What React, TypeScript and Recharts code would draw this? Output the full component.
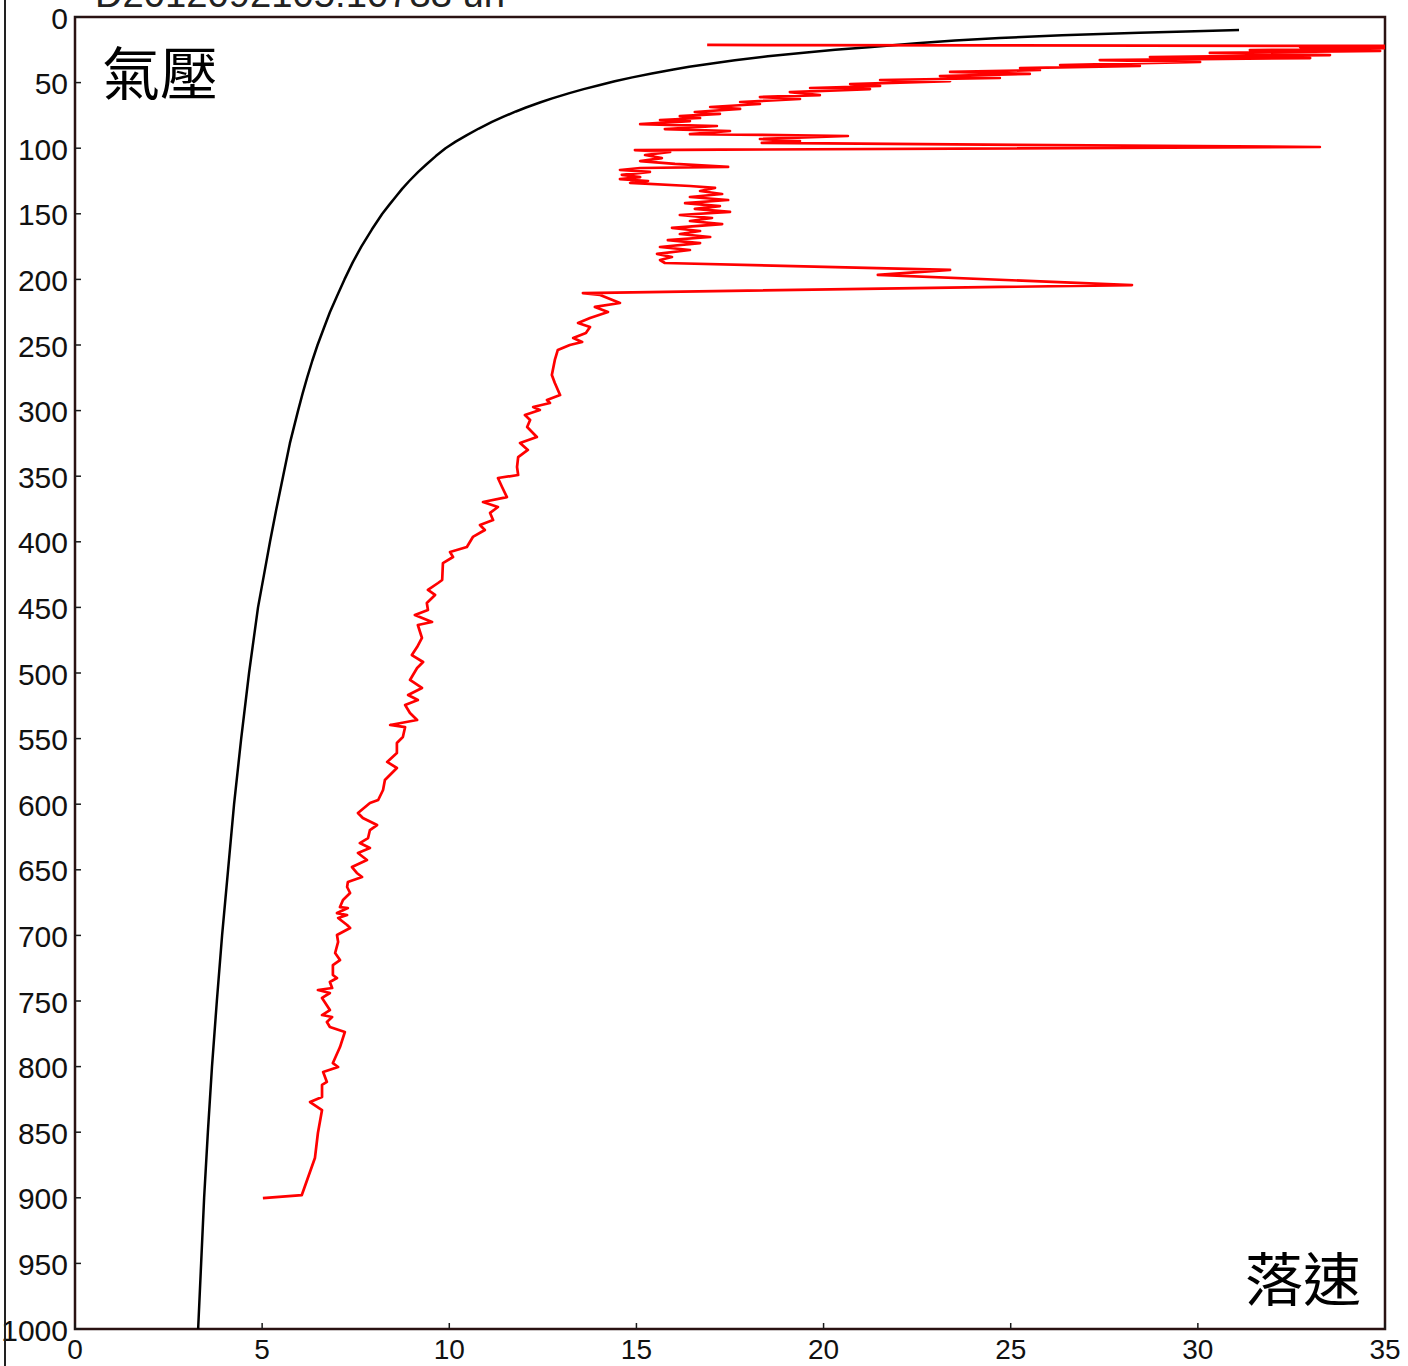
import { ScatterChart, Scatter, XAxis, YAxis, ReferenceArea } from 'recharts'

// fall speed (m/s) vs pressure (hPa); pairs are [speed, pressure]
const xTicks = [0, 5, 10, 15, 20, 25, 30, 35]
const yTicks = [0, 50, 100, 150, 200, 250, 300, 350, 400, 450, 500, 550, 600, 650, 700, 750, 800, 850, 900, 950, 1000]

const titleText = 'D2012092105.10733 un'
const pressureLabel = '氣壓'
const speedLabel = '落速'

// theoretical fall speed (black)
const blackPressure = [
  10, 11, 12, 14, 16, 18, 20, 23, 25, 27, 30, 33, 35, 38, 40, 43, 46, 49, 52, 55, 58, 62, 65, 69, 72, 76, 80, 85, 90, 95,
  100, 106, 112, 118, 125, 131, 137, 143, 150, 162, 175, 187, 200, 212, 225, 237, 250, 262, 275, 287, 300, 325, 350, 375,
  400, 425, 450, 475, 500, 550, 600, 650, 700, 750, 800, 850, 900, 950, 1000,
]
const blackSpeed = [
  31.1, 29.68, 28.44, 26.37, 24.7, 23.51, 22.49, 21.2, 20.31, 19.54, 18.51, 17.63, 17.11, 16.41, 15.99, 15.41, 14.89, 14.42,
  14.0, 13.59, 13.21, 12.75, 12.44, 12.05, 11.78, 11.45, 11.14, 10.79, 10.47, 10.17,
  9.9, 9.64, 9.4, 9.17, 8.93, 8.74, 8.57, 8.4, 8.21, 7.93, 7.65, 7.42, 7.2, 7.01, 6.81, 6.65, 6.48, 6.34, 6.2, 6.08, 5.96,
  5.74, 5.56, 5.38, 5.21, 5.05, 4.89, 4.77, 4.65, 4.44, 4.25, 4.09, 3.93, 3.79, 3.66, 3.55, 3.45, 3.37, 3.29,
]

// measured fall speed (red), top of profile
const redUpper: [number, number][] = [
  [16.89, 21.3], [35.6, 22.1], [32.73, 22.9], [35.6, 23.6], [31.39, 25.2], [34.87, 25.9], [30.32, 27.4], [33.53, 29.0],
  [28.72, 30.5], [33.0, 31.3], [27.38, 32.8], [30.06, 34.3], [26.32, 36.6], [28.45, 37.3], [25.25, 38.9], [25.78, 40.4],
  [23.38, 41.9], [25.51, 43.4], [23.11, 45.0], [24.71, 46.5], [21.51, 48.0], [23.38, 48.8], [20.71, 51.1], [21.51, 52.6],
  [19.64, 54.1], [21.24, 54.9], [19.1, 57.2], [19.9, 59.5], [18.3, 61.0], [19.37, 62.5], [17.77, 64.8], [18.3, 66.3],
  [16.97, 68.6], [17.77, 70.1], [16.56, 72.4], [17.23, 73.9], [16.16, 75.5], [16.7, 77.0], [15.63, 78.5], [16.43, 79.3],
  [15.1, 81.6], [17.15, 83.1], [15.76, 85.4], [17.5, 86.9], [16.43, 89.2], [20.65, 90.7], [18.3, 93.0], [19.37, 94.5],
  [18.35, 96.0], [33.26, 99.1], [14.96, 101.4],
]

const redMiddle: [number, number][] = [
  [15.9, 102.9], [15.23, 105.2], [15.68, 107.5], [15.1, 109.8], [16.03, 112.0], [17.45, 114.3], [15.1, 115.1], [14.56, 116.6],
  [15.36, 118.1], [14.61, 120.4], [15.1, 122.0], [14.56, 123.5], [15.31, 125.0], [14.83, 126.5], [16.43, 128.8], [17.1, 130.3],
  [16.7, 132.6], [17.29, 134.9], [16.43, 137.2], [17.45, 139.5], [16.3, 141.8], [17.23, 144.1], [16.56, 146.3], [17.5, 148.6],
  [16.16, 150.9], [17.02, 153.2], [16.43, 155.5], [17.29, 157.8], [15.95, 160.8], [16.7, 163.1], [16.16, 165.4], [16.97, 167.7],
  [15.84, 170.0], [16.7, 172.3], [15.63, 175.3], [16.43, 177.6], [15.55, 180.6], [15.95, 182.9], [15.63, 185.2], [15.76, 187.5],
  [23.38, 192.8], [21.45, 196.6], [28.24, 204.3], [13.57, 210.4], [14.03, 211.9], [14.56, 218.0], [13.89, 221.0], [14.24, 224.8],
  [13.76, 229.4], [13.44, 233.2], [13.76, 236.3], [13.65, 240.9], [13.31, 244.7], [13.55, 247.7], [13.22, 250.0], [12.9, 253.8],
  [12.82, 261.4], [12.74, 272.9], [12.82, 279.0], [12.96, 288.1], [12.61, 291.9], [12.69, 294.2], [12.24, 297.3], [12.42, 299.5],
]

const redLower: [number, number][] = [
  [12.02, 303.4], [12.16, 307.2], [12.08, 312.5], [12.34, 320.1], [11.89, 324.7], [12.1, 330.0], [11.84, 335.4], [11.81, 343.0],
  [11.84, 349.1], [11.3, 351.4], [11.41, 358.2], [11.54, 365.9], [10.9, 369.7], [11.3, 373.5], [11.09, 378.0], [11.17, 383.4],
  [10.82, 387.2], [10.95, 391.0], [10.63, 396.3], [10.47, 404.0], [10.02, 407.8], [10.1, 411.6], [9.83, 416.2], [9.81, 429.1],
  [9.7, 431.4], [9.43, 436.7], [9.62, 440.5], [9.4, 446.6], [9.43, 452.0], [9.08, 455.8], [9.54, 461.1], [9.16, 463.4],
  [9.27, 473.3], [9.14, 480.2], [9.0, 486.3], [9.3, 491.6], [9.14, 496.2], [8.95, 505.3], [9.27, 511.4], [8.9, 516.8],
  [9.16, 520.6], [8.82, 524.4], [8.95, 530.5], [9.14, 535.8], [8.42, 539.6], [8.82, 541.2], [8.76, 548.8], [8.6, 553.4],
  [8.6, 561.0], [8.34, 567.8], [8.6, 572.4], [8.28, 581.6], [8.23, 589.2], [8.1, 596.8], [7.88, 599.1],
]

const redBottom: [number, number][] = [
  [7.56, 606.7], [7.69, 610.5], [8.07, 615.9], [7.88, 619.7], [7.83, 625.8], [7.61, 629.6], [7.88, 633.4], [7.56, 637.2],
  [7.8, 642.5], [7.4, 647.9], [7.53, 652.4], [7.67, 655.5], [7.29, 659.3], [7.27, 663.1], [7.35, 667.7], [7.16, 673.0],
  [7.08, 678.4], [7.29, 679.1], [7.0, 683.0], [7.27, 684.5], [7.03, 686.7], [7.27, 692.1], [7.35, 694.4], [7.0, 699.7],
  [7.03, 705.0], [6.95, 713.4], [7.08, 718.8], [6.89, 722.6], [6.89, 730.2], [7.0, 732.5], [6.81, 735.5], [6.87, 740.1],
  [6.49, 741.6], [6.81, 743.9], [6.6, 747.7], [6.81, 756.9], [6.6, 760.7], [6.87, 762.2], [6.73, 766.0], [6.81, 769.8],
  [7.21, 773.6], [7.08, 785.1], [6.89, 797.3], [7.03, 800.3], [6.63, 804.1], [6.73, 811.7], [6.6, 814.0], [6.6, 823.2],
  [6.28, 827.0], [6.6, 833.1], [6.49, 850.6], [6.41, 869.7], [6.06, 897.9], [5.02, 900.2],
]

const blackData = blackPressure.map((p, i) => ({ v: blackSpeed[i], p }))
const redData = [...redUpper, ...redMiddle, ...redLower, ...redBottom].map(([v, p]) => ({ v, p }))

const font = '"Liberation Sans", Arial, Helvetica, sans-serif'
const cjkFont = '"Noto Sans CJK TC", "Noto Sans CJK SC", sans-serif'
const axisColor = '#1a1a1a'

const YTick = (props: any) => {
  const { x, y, payload } = props
  return (
    <g>
      <line x1={x + 8} x2={x + 14} y1={y} y2={y} stroke={axisColor} strokeWidth={1.5} />
      <text x={x + 1} y={y + 1} textAnchor="end" dominantBaseline="central" fontSize={30} fontFamily={font} fill="#111">
        {payload.value}
      </text>
    </g>
  )
}

const XTick = (props: any) => {
  const { x, y, payload } = props
  return (
    <g>
      <line x1={x} x2={x} y1={y - 8} y2={y - 14} stroke={axisColor} strokeWidth={1.5} />
      <text x={x} y={y + 22} textAnchor="middle" fontSize={28} fontFamily={font} fill="#111">
        {payload.value}
      </text>
    </g>
  )
}

const noDot = () => <g />

export default function App() {
  return (
    <div style={{ position: 'absolute', left: 0, top: 0, width: 1408, height: 1366, background: '#fff' }}>
      <ScatterChart width={1408} height={1366} margin={{ top: 17, right: 23, bottom: 0, left: 0 }}>
        <XAxis
          type="number"
          dataKey="v"
          domain={[0, 35]}
          ticks={xTicks}
          allowDataOverflow
          height={37}
          axisLine={false}
          tickLine={false}
          tick={<XTick />}
        />
        <YAxis
          type="number"
          dataKey="p"
          domain={[0, 1000]}
          reversed
          ticks={yTicks}
          allowDataOverflow
          width={75}
          axisLine={false}
          tickLine={false}
          tick={<YTick />}
        />
        <ReferenceArea x1={0} x2={35} y1={0} y2={1000} fill="none" stroke="#2a1212" strokeWidth={2.5} />
        <Scatter
          data={blackData}
          line={{ stroke: '#000', strokeWidth: 2.5, strokeLinejoin: 'round' }}
          lineType="joint"
          shape={noDot}
          isAnimationActive={false}
        />
        <Scatter
          data={redData}
          line={{ stroke: '#ff0000', strokeWidth: 2.7, strokeLinejoin: 'round' }}
          lineType="joint"
          shape={noDot}
          isAnimationActive={false}
        />
      </ScatterChart>
      <svg width={1408} height={1366} style={{ position: 'absolute', left: 0, top: 0, pointerEvents: 'none' }}>
        <line x1={5} x2={5} y1={0} y2={1366} stroke="#222" strokeWidth={2} />
        <text x={95} y={7} fontSize={36} fontFamily={font} fill="#222" textLength={410} lengthAdjust="spacingAndGlyphs">
          {titleText}
        </text>
        <text x={102} y={95} fontSize={58} fontFamily={cjkFont} fill="#000">
          {pressureLabel}
        </text>
        <text x={1245} y={1301} fontSize={58} fontFamily={cjkFont} fill="#000">
          {speedLabel}
        </text>
      </svg>
    </div>
  )
}
